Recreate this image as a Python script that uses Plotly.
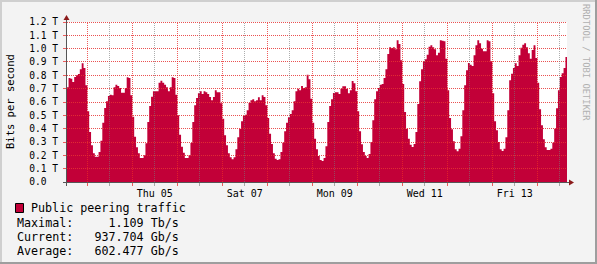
import math
import plotly.graph_objects as go

# ---------------- data (Tb/s, hourly; hour 0 = Wed 04 00:00) ----------------
start_hour = -11
pre = [0.71, 0.78, 0.775, 0.75, 0.7875, 0.80, 0.81, 0.845, 0.89, 0.855, 0.725]
wed04 = [0.53, 0.375, 0.275, 0.215, 0.19, 0.19, 0.225, 0.31, 0.445, 0.555, 0.605, 0.645,
         0.655, 0.65, 0.71, 0.73, 0.72, 0.705, 0.67, 0.67, 0.705, 0.785, 0.78, 0.65]
thu05 = [0.49, 0.34, 0.26, 0.215, 0.18, 0.18, 0.2, 0.29, 0.45, 0.57, 0.64, 0.68,
         0.68, 0.68, 0.745, 0.76, 0.745, 0.73, 0.71, 0.68, 0.71, 0.785, 0.78, 0.655]
fri06 = [0.5, 0.355, 0.265, 0.22, 0.18, 0.18, 0.2, 0.2925, 0.45, 0.575, 0.63, 0.665,
         0.68, 0.66, 0.68, 0.6725, 0.66, 0.6375, 0.6125, 0.6375, 0.6875, 0.6725, 0.6725, 0.59]
sat07 = [0.475, 0.35, 0.275, 0.215, 0.185, 0.17, 0.185, 0.245, 0.335, 0.4, 0.455, 0.495,
         0.505, 0.5375, 0.5925, 0.6125, 0.62, 0.605, 0.6125, 0.635, 0.6125, 0.65, 0.6375, 0.575]
sun08 = [0.48, 0.3625, 0.285, 0.215, 0.175, 0.165, 0.17, 0.225, 0.295, 0.38, 0.445, 0.485,
         0.51, 0.5375, 0.605, 0.68, 0.70, 0.6875, 0.72, 0.705, 0.71, 0.805, 0.77, 0.625]
mon09 = [0.445, 0.325, 0.245, 0.195, 0.165, 0.1575, 0.18, 0.2675, 0.45, 0.57, 0.62, 0.6675,
         0.6725, 0.6725, 0.66, 0.70, 0.7175, 0.7175, 0.70, 0.665, 0.6875, 0.7575, 0.74, 0.68]
tue10 = [0.53, 0.38, 0.2825, 0.225, 0.195, 0.18, 0.21, 0.30, 0.4625, 0.62, 0.68, 0.705,
         0.73, 0.735, 0.78, 0.845, 0.96, 1.01, 1.005, 1.01, 0.995, 1.0625, 1.035, 0.9125]
wed11 = [0.735, 0.525, 0.40, 0.325, 0.28, 0.2625, 0.285, 0.375, 0.585, 0.755, 0.845, 0.905,
         0.92, 0.955, 1.015, 1.025, 1.01, 0.995, 0.95, 0.97, 1.0625, 1.06, 1.055, 0.925]
thu12 = [0.6875, 0.48, 0.395, 0.305, 0.245, 0.23, 0.25, 0.3425, 0.5375, 0.725, 0.8375, 0.8925,
         0.88, 0.87, 0.95, 1.025, 1.0625, 1.04, 1.00, 0.98, 0.98, 1.0625, 1.055, 0.905]
fri13 = [0.665, 0.455, 0.3875, 0.30, 0.245, 0.2325, 0.25, 0.335, 0.5375, 0.7625, 0.8125, 0.855,
         0.89, 0.87, 0.95, 1.0075, 1.03, 1.04, 1.01, 0.965, 0.925, 0.99, 1.025, 0.93]
sat14 = [0.745, 0.545, 0.425, 0.32, 0.26, 0.24, 0.24, 0.25, 0.295, 0.40, 0.5525, 0.6875,
         0.7875, 0.815, 0.855, 0.9377]

x_tick_hours = [36, 84, 132, 180, 228]
x_tick_labels = ["Thu 05", "Sat 07", "Mon 09", "Wed 11", "Fri 13"]
y_tick_vals = [0.0, 0.1, 0.2, 0.3, 0.4, 0.5, 0.6, 0.7, 0.8, 0.9, 1.0, 1.1, 1.2]
y_tick_labels = ["0.0\u00a0\u00a0", "0.1 T", "0.2 T", "0.3 T", "0.4 T", "0.5 T", "0.6 T",
                 "0.7 T", "0.8 T", "0.9 T", "1.0 T", "1.1 T", "1.2 T"]

series_name = "Public peering traffic"
stat_labels = ["Maximal:", "Current:", "Average:"]
stat_values = ["1.109 Tb/s", "937.704 Gb/s", "602.477 Gb/s"]

# ---------------- build ----------------
values = pre + wed04 + thu05 + fri06 + sat07 + sun08 + mon09 + tue10 + wed11 + thu12 + fri13 + sat14
hours = list(range(start_hour, start_hour + len(values)))
xs = hours + [hours[-1] + 1]
ys = values + [values[-1]]

X_RANGE = [-10.833, 255.833]
Y_RANGE = [0, 1.2]

W, H = 597, 264
ML, MR, MT, MB = 67, 30, 22, 82
PW, PH = W - ML - MR, H - MT - MB

def px(xp):
    return (xp - ML) / PW

def py(yp):
    return (H - MB - yp) / PH

def xpix(hv):  # hour -> crisp pixel centre
    p = ML + (hv - X_RANGE[0]) / (X_RANGE[1] - X_RANGE[0]) * PW
    return math.floor(p) + 0.5

def ypix(v):  # value -> crisp pixel centre
    p = MT + (Y_RANGE[1] - v) / (Y_RANGE[1] - Y_RANGE[0]) * PH
    return math.floor(p) + 0.5

RED = "#C20038"
FONT = "DejaVu Sans Mono"
HGRID = "rgba(230,50,50,0.85)"
MGRID = "rgba(235,40,40,0.75)"
GRID = "rgba(120,120,120,0.6)"
DASH = "1px,1px"

fig = go.Figure()
fig.add_trace(go.Scatter(x=xs, y=ys, mode="lines", line=dict(width=0, shape="hv"),
                         fill="tozeroy", fillcolor=RED, hoverinfo="skip", showlegend=False))

shapes = []
# horizontal grid + y tick marks
for v in y_tick_vals[1:]:
    yc = ypix(v)
    shapes.append(dict(type="line", xref="paper", yref="paper", x0=px(67), x1=px(567), y0=py(yc), y1=py(yc),
                       line=dict(color=HGRID, width=1, dash=DASH), layer="above"))
    shapes.append(dict(type="line", xref="paper", yref="paper", x0=px(63), x1=px(66), y0=py(yc), y1=py(yc),
                       line=dict(color=MGRID, width=1), layer="above"))
# vertical grid every 12h + x tick marks
h = -12
while h <= X_RANGE[1]:
    if h >= X_RANGE[0]:
        col = MGRID if h % 24 == 0 else GRID
        xc = xpix(h)
        shapes.append(dict(type="line", xref="paper", yref="paper", x0=px(xc), x1=px(xc), y0=py(182), y1=py(22),
                           line=dict(color=col, width=1, dash=DASH), layer="above"))
        shapes.append(dict(type="line", xref="paper", yref="paper", x0=px(xc), x1=px(xc), y0=py(183), y1=py(186),
                           line=dict(color=col, width=1), layer="above"))
    h += 12

AX = "#555555"
# axis lines
shapes.append(dict(type="line", xref="paper", yref="paper", x0=px(63), x1=px(570), y0=py(182.5), y1=py(182.5),
                   line=dict(color=AX, width=1), layer="above"))
shapes.append(dict(type="line", xref="paper", yref="paper", x0=px(66.5), x1=px(66.5), y0=py(186), y1=py(18),
                   line=dict(color=AX, width=1), layer="above"))
ARROW = "#8B1A1A"
shapes.append(dict(type="path", xref="paper", yref="paper",
                   path=f"M {px(569)} {py(179.5)} L {px(574)} {py(182.5)} L {px(569)} {py(185.5)} Z",
                   fillcolor=ARROW, line=dict(width=0), layer="above"))
shapes.append(dict(type="path", xref="paper", yref="paper",
                   path=f"M {px(63.5)} {py(20)} L {px(66.5)} {py(15)} L {px(69.5)} {py(20)} Z",
                   fillcolor=ARROW, line=dict(width=0), layer="above"))
# outer frame
shapes.append(dict(type="line", xref="paper", yref="paper", x0=px(0), x1=px(W), y0=py(1), y1=py(1),
                   line=dict(color="#CFCFCF", width=2), layer="above"))
shapes.append(dict(type="line", xref="paper", yref="paper", x0=px(1), x1=px(1), y0=py(0), y1=py(H),
                   line=dict(color="#CFCFCF", width=2), layer="above"))
shapes.append(dict(type="line", xref="paper", yref="paper", x0=px(0), x1=px(W), y0=py(H - 1), y1=py(H - 1),
                   line=dict(color="#9E9E9E", width=2), layer="above"))
shapes.append(dict(type="line", xref="paper", yref="paper", x0=px(W - 1), x1=px(W - 1), y0=py(0), y1=py(H),
                   line=dict(color="#9E9E9E", width=2), layer="above"))
# legend swatch
shapes.append(dict(type="rect", xref="paper", yref="paper", x0=px(15.5), x1=px(23.5), y0=py(212.5), y1=py(203.5),
                   fillcolor=RED, line=dict(color="#000000", width=1), layer="above"))

annotations = []
annotations.append(dict(text="Bits per second", xref="paper", yref="paper", x=px(10), y=py(102),
                        textangle=-90, showarrow=False, xanchor="center", yanchor="middle",
                        font=dict(family=FONT, size=10.5, color="#000000")))
annotations.append(dict(text="RRDTOOL / TOBI OETIKER", xref="paper", yref="paper", x=px(586), y=py(62),
                        textangle=90, showarrow=False, xanchor="center", yanchor="middle",
                        font=dict(family=FONT, size=8.8, color="#B0B0B0")))
annotations.append(dict(text=series_name, xref="paper", yref="paper", x=px(29), y=py(208),
                        showarrow=False, xanchor="left", yanchor="middle",
                        font=dict(family=FONT, size=11.7, color="#000000")))
for i, (lab, val) in enumerate(zip(stat_labels, stat_values)):
    line = (lab + val.rjust(15)).replace(" ", "\u00a0")
    annotations.append(dict(text=line, xref="paper", yref="paper", x=px(14.5), y=py(222.5 + 14 * i),
                            showarrow=False, xanchor="left", yanchor="middle",
                            font=dict(family=FONT, size=11.7, color="#000000")))

fig.update_layout(
    width=W, height=H, autosize=False,
    margin=dict(l=ML, r=MR, t=MT, b=MB, pad=0),
    paper_bgcolor="#F3F3F3", plot_bgcolor="#FFFFFF",
    showlegend=False,
    shapes=shapes, annotations=annotations,
    xaxis=dict(range=X_RANGE, showgrid=False, zeroline=False, showline=False,
               tickmode="array", tickvals=x_tick_hours, ticktext=x_tick_labels,
               ticks="outside", ticklen=2, tickcolor="rgba(0,0,0,0)",
               tickfont=dict(family=FONT, size=10, color="#000000"), fixedrange=True),
    yaxis=dict(range=Y_RANGE, showgrid=False, zeroline=False, showline=False,
               tickmode="array", tickvals=y_tick_vals, ticktext=y_tick_labels,
               ticks="outside", ticklen=6, tickcolor="rgba(0,0,0,0)",
               tickfont=dict(family=FONT, size=9.6, color="#000000"), fixedrange=True),
)

fig.write_html("out.html")
